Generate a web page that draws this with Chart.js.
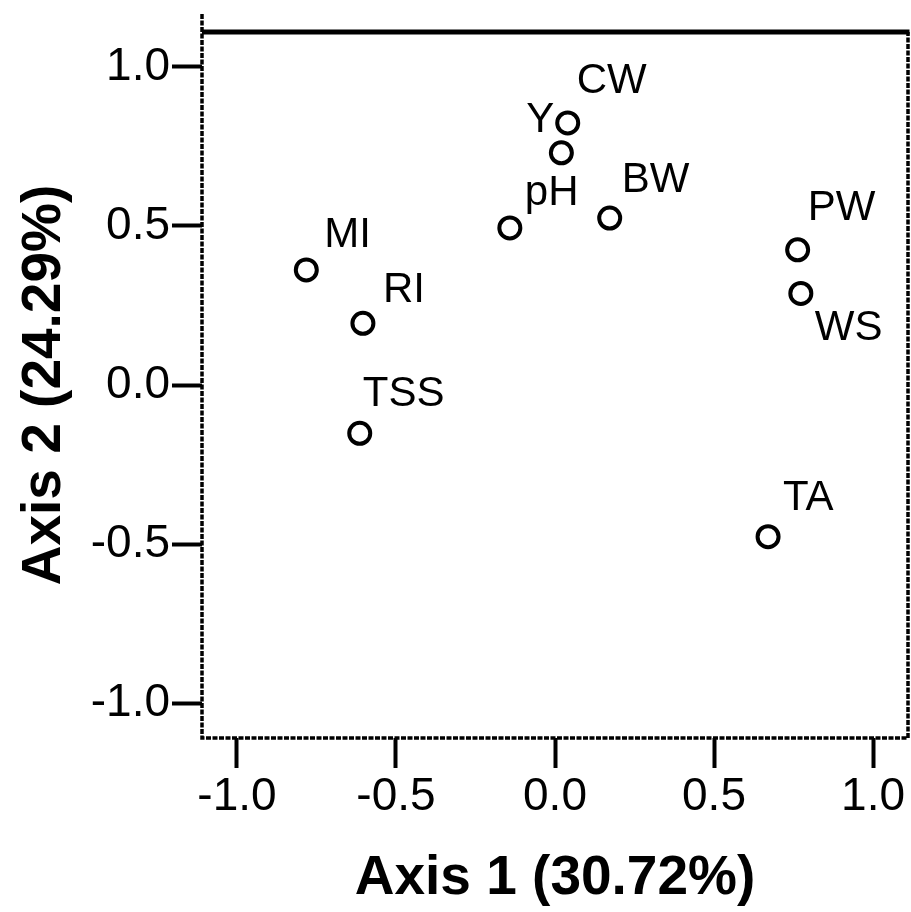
<!DOCTYPE html>
<html>
<head>
<meta charset="utf-8">
<script src="https://cdn.jsdelivr.net/npm/chart.js@4.4.1/dist/chart.umd.min.js"></script>
<style>
  html, body { margin: 0; padding: 0; background: #fff; }
  #wrap { width: 911px; height: 912px; }
</style>
</head>
<body>
<div id="wrap"><canvas id="biplot" width="911" height="912"></canvas></div>
<script>
// variable names and their loadings on the two axes
const varNames = ["MI", "RI", "TSS", "pH", "Y", "CW", "BW", "PW", "WS", "TA"];
const axis1Values = [-0.782, -0.604, -0.614, -0.142, 0.020, 0.040, 0.172, 0.763, 0.773, 0.670];
const axis2Values = [0.362, 0.194, -0.152, 0.494, 0.730, 0.824, 0.525, 0.425, 0.288, -0.477];

// tick labels for both axes
const xTickValues = [-1.0, -0.5, 0.0, 0.5, 1.0];
const yTickValues = [-1.0, -0.5, 0.0, 0.5, 1.0];

// where each text label sits relative to its circle (left edge, baseline) in px
const labelOffsets = [
  [18, -23], [20, -21], [3, -27], [15, -23], [-35, -21],
  [9, -30], [12, -26], [10, -30], [14, 47], [15, -27]
];

const FONT = "'Liberation Sans', Arial, sans-serif";

// draws the point labels next to each circle
const pointLabels = {
  id: "pointLabels",
  afterDatasetsDraw(chart) {
    const ctx = chart.ctx;
    const meta = chart.getDatasetMeta(0);
    ctx.save();
    ctx.fillStyle = "#000";
    ctx.font = "42px " + FONT;
    ctx.textAlign = "left";
    ctx.textBaseline = "alphabetic";
    meta.data.forEach((pt, i) => {
      const off = labelOffsets[i];
      ctx.fillText(varNames[i], pt.x + off[0], pt.y + off[1]);
    });
    ctx.restore();
  },
};

// frame: solid thick top line, dashed left/bottom/right
const frame = {
  id: "frame",
  afterDraw(chart) {
    const { ctx, chartArea: a } = chart;
    ctx.save();
    ctx.strokeStyle = "#000";
    ctx.lineWidth = 3.5;
    ctx.setLineDash([5, 1.5]);
    ctx.beginPath();
    ctx.moveTo(a.left, 14);
    ctx.lineTo(a.left, a.bottom);
    ctx.lineTo(a.right, a.bottom);
    ctx.lineTo(a.right, a.top);
    ctx.stroke();
    ctx.setLineDash([]);
    ctx.lineWidth = 5;
    ctx.beginPath();
    ctx.moveTo(a.left, a.top);
    ctx.lineTo(a.right + 1.5, a.top);
    ctx.stroke();
    ctx.restore();
  },
};

const points = axis1Values.map((x, i) => ({ x: x, y: axis2Values[i] }));

new Chart(document.getElementById("biplot"), {
  type: "scatter",
  data: {
    datasets: [
      {
        data: points,
        pointRadius: 10.5,
        pointHoverRadius: 10.5,
        pointBorderWidth: 4,
        pointBorderColor: "#000",
        pointBackgroundColor: "rgba(255,255,255,0)",
      },
    ],
  },
  options: {
    responsive: false,
    animation: false,
    devicePixelRatio: 1,
    layout: { autoPadding: false, padding: { top: 32, right: 3, left: 0, bottom: 0 } },
    plugins: {
      legend: { display: false },
      tooltip: { enabled: false },
    },
    scales: {
      x: {
        type: "linear",
        min: -1.11,
        max: 1.11,
        afterBuildTicks: (scale) => {
          scale.ticks = xTickValues.map((v) => ({ value: v }));
        },
        afterFit: (scale) => {
          scale.height = 174;
          scale.paddingLeft = 0;
          scale.paddingRight = 0;
        },
        border: { display: false },
        grid: {
          drawOnChartArea: false,
          drawTicks: true,
          tickLength: 30,
          tickWidth: 4,
          tickColor: "#000",
        },
        ticks: {
          color: "#000",
          padding: 2,
          maxRotation: 0,
          font: { family: FONT, size: 46 },
          callback: (v) => Number(v).toFixed(1),
        },
        title: {
          display: true,
          text: "Axis 1 (30.72%)",
          color: "#000",
          padding: { top: 0, bottom: 0 },
          font: { family: FONT, size: 55, weight: "bold" },
        },
      },
      y: {
        type: "linear",
        min: -1.11,
        max: 1.11,
        afterBuildTicks: (scale) => {
          scale.ticks = yTickValues.map((v) => ({ value: v }));
        },
        afterFit: (scale) => {
          scale.width = 202;
          scale.paddingTop = 0;
          scale.paddingBottom = 0;
        },
        border: { display: false },
        grid: {
          drawOnChartArea: false,
          drawTicks: true,
          tickLength: 30,
          tickWidth: 4,
          tickColor: "#000",
        },
        ticks: {
          color: "#000",
          padding: 2,
          font: { family: FONT, size: 46 },
          callback: (v) => Number(v).toFixed(1),
        },
        title: {
          display: true,
          text: "Axis 2 (24.29%)",
          color: "#000",
          padding: { top: 12, bottom: 0 },
          font: { family: FONT, size: 55, weight: "bold" },
        },
      },
    },
  },
  plugins: [pointLabels, frame],
});
</script>
</body>
</html>
